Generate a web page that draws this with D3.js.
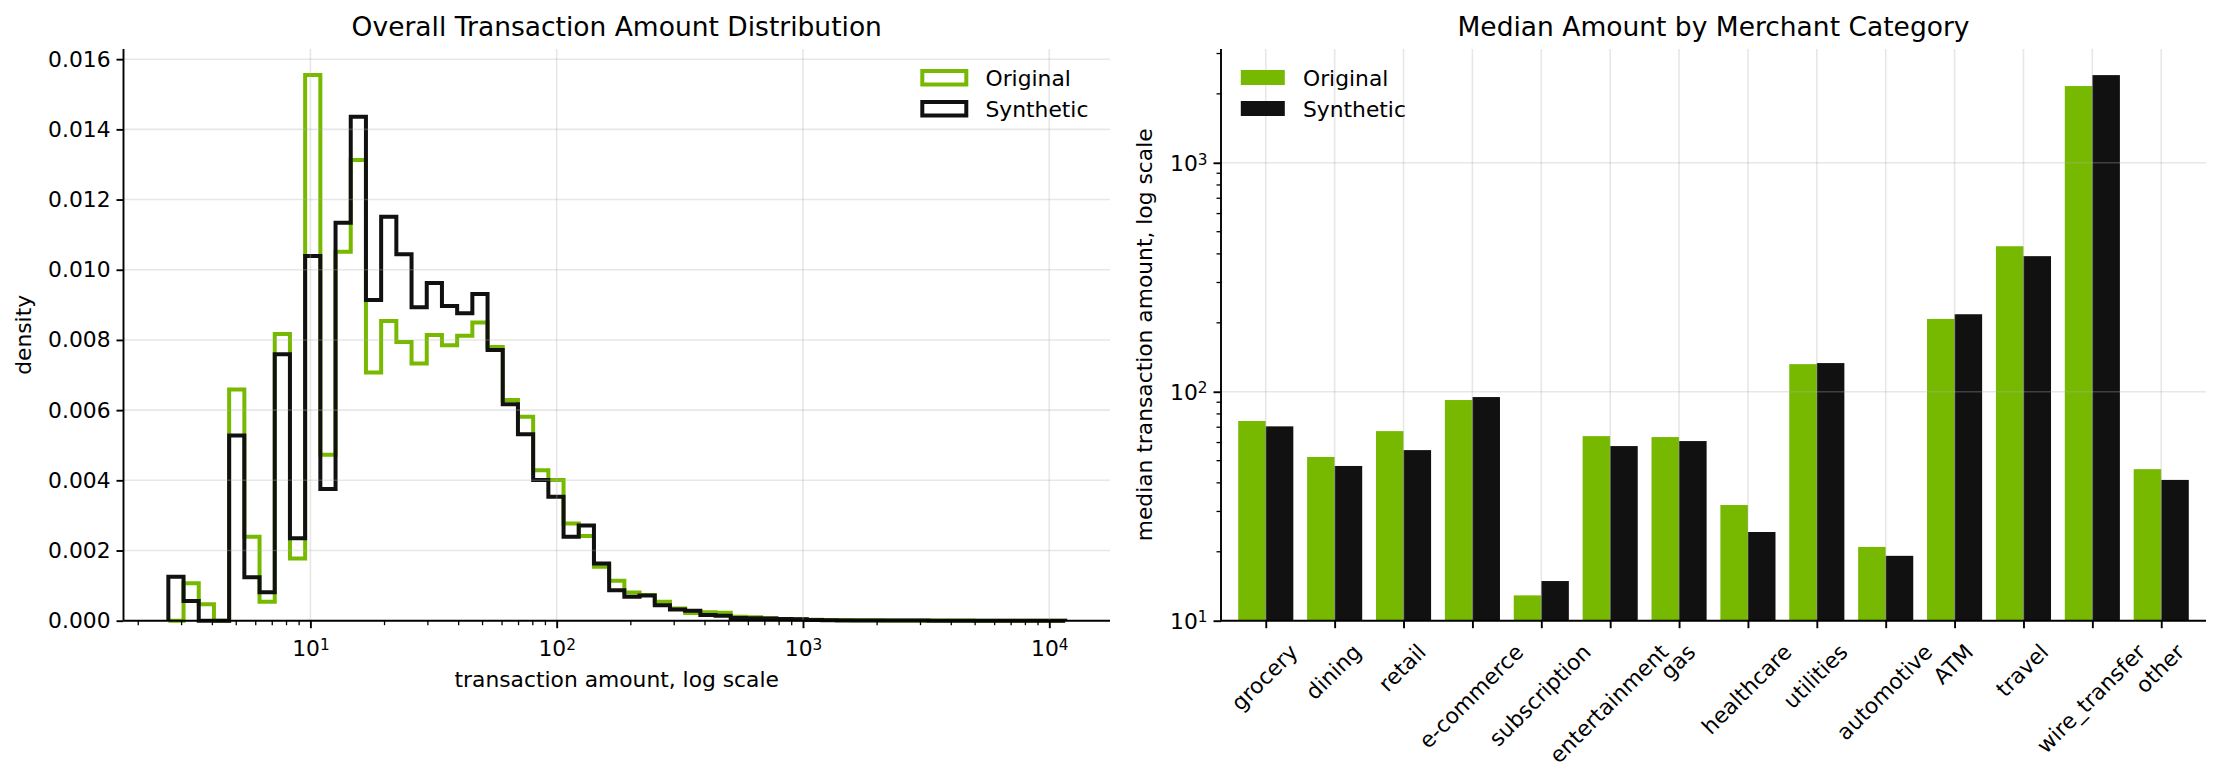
<!DOCTYPE html>
<html><head><meta charset="utf-8">
<script src="https://cdn.jsdelivr.net/npm/d3@7"></script>
<style>
body{margin:0;background:#fff;}
svg text{font-family:"DejaVu Sans",sans-serif;fill:#000;}
</style></head><body>
<svg id="chart" width="2222" height="780"></svg>
<script>
// ---------- data ----------
const seriesNames = ["Original", "Synthetic"];
// histogram: 59 log-spaced bins between these amounts
const binMin = 2.65, binMax = 11600, binCount = 59;
const originalDensity = [
  0, 0.00107, 0.00047, 0, 0.00659, 0.00239, 0.00054, 0.00817, 0.00177, 0.01555,
  0.00473, 0.01051, 0.01313, 0.00707, 0.00854, 0.00794, 0.00733, 0.00814, 0.00785, 0.00812,
  0.0085, 0.0078, 0.00629, 0.00581, 0.00429, 0.00401, 0.00277, 0.00241, 0.00154, 0.00114,
  0.0008, 0.00073, 0.00054, 0.00035, 0.00022, 0.00024, 0.00023, 0.00011, 0.0001, 0.00007,
  0.00004, 0.00004, 0.00003, 0.00002, 0.00002, 0.00001, 0.00001, 0.000008, 0.000006, 0.000005,
  0.000004, 0.000003, 0.000003, 0.000002, 0.000002, 0.000002, 0.000001, 0.000001, 0.000001
];
const syntheticDensity = [
  0.00125, 0.00056, 0, 0, 0.00528, 0.00124, 0.00081, 0.00759, 0.00235, 0.01039,
  0.00375, 0.01134, 0.01436, 0.00914, 0.01151, 0.01044, 0.00893, 0.00962, 0.00897, 0.00876,
  0.00931, 0.00771, 0.00617, 0.00531, 0.00401, 0.00353, 0.00239, 0.00271, 0.00163, 0.00087,
  0.00068, 0.00072, 0.00044, 0.00032, 0.00028, 0.00016, 0.00014, 0.00008, 0.00007, 0.00006,
  0.00005, 0.00004, 0.00002, 0.00001, 0.000008, 0.000006, 0.000005, 0.000004, 0.000003, 0.000003,
  0.000002, 0.000002, 0.000002, 0.000001, 0.000001, 0.000001, 0.000001, 0.000001, 0.000001
];
const densityTicks = [0, 0.002, 0.004, 0.006, 0.008, 0.010, 0.012, 0.014, 0.016];
const amountTicks = [10, 100, 1000, 10000];

const categories = ["grocery", "dining", "retail", "e-commerce", "subscription", "entertainment", "gas",
  "healthcare", "utilities", "automotive", "ATM", "travel", "wire_transfer", "other"];
const originalMedian = [74.5, 51.9, 67.3, 92, 12.9, 64, 63.4, 32, 132, 21, 208, 432, 2163, 45.9];
const syntheticMedian = [70.6, 47.4, 55.6, 94.8, 14.9, 57.9, 60.9, 24.4, 133.4, 19.2, 218, 391, 2415, 41.2];
const medianTicks = [10, 100, 1000];

const GREEN = "#76b900", BLACK = "#111111";
const GRID = "#b0b0b0";

// ---------- helpers ----------
const svg = d3.select("#chart");
const FS = 21.8, TFS = 26.5;
function powLabel(sel, v) {
  const e = Math.round(Math.log10(v));
  sel.text(null);
  sel.append("tspan").text("10");
  sel.append("tspan").attr("dy", "-0.42em").attr("font-size", (FS * 0.7) + "px").text(e);
}

// ================= LEFT: histogram =================
{
  const L = 123.5, R = 1110, T = 49, B = 620.7;
  const lo = Math.log10(binMin), hi = Math.log10(binMax), rng = hi - lo;
  const x = d3.scaleLog().domain([Math.pow(10, lo - 0.05 * rng), Math.pow(10, hi + 0.05 * rng)]).range([L, R]);
  const y = d3.scaleLinear().domain([0, 0.01629]).range([B, T]);
  const edges = d3.range(binCount + 1).map(i => Math.pow(10, lo + rng * i / binCount));
  const g = svg.append("g");

  function stepPts(vals) {
    const pts = [[edges[0], 0]];
    vals.forEach((v, i) => { pts.push([edges[i], v]); pts.push([edges[i + 1], v]); });
    pts.push([edges[binCount], 0]);
    return pts;
  }
  const line = d3.line().x(d => x(d[0])).y(d => y(d[1]));
  [[originalDensity, GREEN], [syntheticDensity, BLACK]].forEach(([vals, c]) => {
    g.append("path").attr("d", line(stepPts(vals))).attr("fill", "none")
      .attr("stroke", c).attr("stroke-width", 4).attr("stroke-linejoin", "miter");
  });

  const grid = g.append("g").attr("stroke", GRID).attr("stroke-opacity", 0.3).attr("stroke-width", 1.6);
  densityTicks.forEach(t => grid.append("line").attr("x1", L).attr("x2", R).attr("y1", y(t)).attr("y2", y(t)));
  amountTicks.forEach(t => grid.append("line").attr("x1", x(t)).attr("x2", x(t)).attr("y1", T).attr("y2", B));

  const yAxis = d3.axisLeft(y).tickValues(densityTicks).tickFormat(d3.format(".3f")).tickSize(7).tickPadding(6);
  const ya = g.append("g").attr("transform", `translate(${L},0)`).call(yAxis);
  const xAxis = d3.axisBottom(x).tickValues(amountTicks).tickSize(7.5).tickPadding(6).tickFormat(() => "");
  const xa = g.append("g").attr("transform", `translate(0,${B})`).call(xAxis);
  xa.selectAll(".tick text").each(function (d) { powLabel(d3.select(this), d); }).attr("dy", "1.0em");
  const minor = [];
  for (let dec = 1; dec <= 10000; dec *= 10) for (let m = 2; m <= 9; m++) {
    const v = m * dec / 10; if (x(v) >= L && x(v) <= R) minor.push(v);
  }
  for (let m = 2; m <= 9; m++) { const v = m * 10000; if (x(v) <= R) minor.push(v); }
  xa.selectAll(".minor").data(minor).enter().append("line").attr("class", "minor")
    .attr("x1", d => x(d)).attr("x2", d => x(d)).attr("y1", 0).attr("y2", 4.5)
    .attr("stroke", "#000").attr("stroke-width", 1.3);
  [ya, xa].forEach(a => {
    a.select(".domain").attr("stroke", "#000").attr("stroke-width", 1.9);
    a.selectAll(".tick line").attr("stroke", "#000").attr("stroke-width", 1.9);
    a.selectAll("text").attr("font-size", FS + "px").attr("fill", "#000").attr("font-family", "DejaVu Sans");
  });
  ya.select(".domain").attr("d", `M0,${B}V${T}`);
  xa.select(".domain").attr("d", `M${L},0H${R}`);

  g.append("text").attr("x", (L + R) / 2).attr("y", 36).attr("text-anchor", "middle")
    .attr("font-size", TFS + "px").text("Overall Transaction Amount Distribution");
  g.append("text").attr("x", (L + R) / 2).attr("y", 686.5).attr("text-anchor", "middle")
    .attr("font-size", FS + "px").text("transaction amount, log scale");
  g.append("text").attr("transform", `translate(31,${(T + B) / 2}) rotate(-90)`).attr("text-anchor", "middle")
    .attr("font-size", FS + "px").text("density");

  const lg = g.append("g");
  seriesNames.forEach((n, i) => {
    const c = i === 0 ? GREEN : BLACK;
    lg.append("rect").attr("x", 922.3).attr("y", 71 + i * 31).attr("width", 44).attr("height", 13.5)
      .attr("fill", "none").attr("stroke", c).attr("stroke-width", 4);
    lg.append("text").attr("x", 985.5).attr("y", 85.5 + i * 31).attr("font-size", FS + "px").text(n);
  });
}

// ================= RIGHT: grouped bars =================
{
  const L = 1221, R = 2206, T = 49, B = 620.7;
  const x = d3.scaleLinear().domain([-0.65, categories.length - 1 + 0.65]).range([L, R]);
  const y = d3.scaleLog().domain([10, 3140]).range([B, T]);
  const g = svg.append("g");
  const bw = 0.4;

  g.selectAll(".bo").data(originalMedian).enter().append("rect")
    .attr("x", (d, i) => x(i - bw)).attr("width", (d, i) => x(i) - x(i - bw))
    .attr("y", d => y(d)).attr("height", d => B - y(d)).attr("fill", GREEN);
  g.selectAll(".bs").data(syntheticMedian).enter().append("rect")
    .attr("x", (d, i) => x(i)).attr("width", (d, i) => x(i + bw) - x(i))
    .attr("y", d => y(d)).attr("height", d => B - y(d)).attr("fill", BLACK);

  const grid = g.append("g").attr("stroke", GRID).attr("stroke-opacity", 0.3).attr("stroke-width", 1.6);
  medianTicks.forEach(t => grid.append("line").attr("x1", L).attr("x2", R).attr("y1", y(t)).attr("y2", y(t)));
  categories.forEach((c, i) => grid.append("line").attr("x1", x(i)).attr("x2", x(i)).attr("y1", T).attr("y2", B));

  const yAxis = d3.axisLeft(y).tickValues(medianTicks).tickSize(7.5).tickPadding(6).tickFormat(() => "");
  const ya = g.append("g").attr("transform", `translate(${L},0)`).call(yAxis);
  ya.selectAll(".tick text").each(function (d) { powLabel(d3.select(this), d); }).attr("dy", "0.35em");
  const minor = [];
  for (let dec = 10; dec <= 1000; dec *= 10) for (let m = 2; m <= 9; m++) {
    const v = m * dec; if (y(v) >= T) minor.push(v);
  }
  ya.selectAll(".minor").data(minor).enter().append("line")
    .attr("x1", -4.5).attr("x2", 0).attr("y1", d => y(d)).attr("y2", d => y(d))
    .attr("stroke", "#000").attr("stroke-width", 1.3);

  const xAxis = d3.axisBottom(x).tickValues(d3.range(categories.length)).tickSize(7.5).tickFormat(() => "");
  const xa = g.append("g").attr("transform", `translate(0,${B})`).call(xAxis);
  xa.selectAll(".tick text").remove();
  [ya, xa].forEach(a => {
    a.select(".domain").attr("stroke", "#000").attr("stroke-width", 1.9);
    a.selectAll(".tick line").attr("stroke", "#000").attr("stroke-width", 1.9);
    a.selectAll("text").attr("font-size", FS + "px").attr("fill", "#000").attr("font-family", "DejaVu Sans");
  });
  ya.select(".domain").attr("d", `M0,${B}V${T}`);
  xa.select(".domain").attr("d", `M${L},0H${R}`);

  const top = B + 21;
  const H = FS;
  categories.forEach((c, i) => {
    const t = g.append("text").attr("font-size", FS + "px").attr("text-anchor", "middle").attr("dy", (0.262 * FS) + "px").text(c);
    const len = t.node().getComputedTextLength();
    const half = (len + H) * Math.SQRT1_2 / 2;
    t.attr("transform", `translate(${x(i)},${top + half}) rotate(-45)`);
  });

  g.append("text").attr("x", (L + R) / 2).attr("y", 36).attr("text-anchor", "middle")
    .attr("font-size", TFS + "px").text("Median Amount by Merchant Category");
  g.append("text").attr("transform", `translate(1152,${(T + B) / 2}) rotate(-90)`).attr("text-anchor", "middle")
    .attr("font-size", FS + "px").text("median transaction amount, log scale");

  const lg = g.append("g");
  seriesNames.forEach((n, i) => {
    const c = i === 0 ? GREEN : BLACK;
    lg.append("rect").attr("x", 1240.8).attr("y", 70 + i * 31).attr("width", 44).attr("height", 15).attr("fill", c);
    lg.append("text").attr("x", 1303).attr("y", 85.5 + i * 31).attr("font-size", FS + "px").text(n);
  });
}
</script>
</body></html>
